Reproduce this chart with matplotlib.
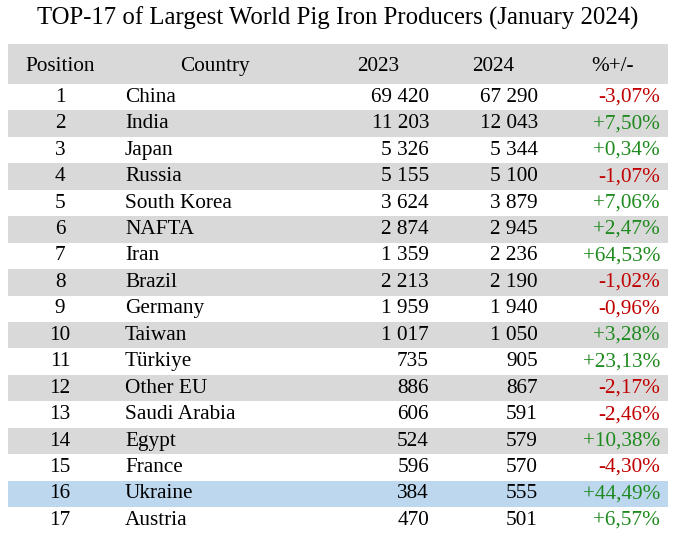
import matplotlib.pyplot as plt
from matplotlib.patches import Rectangle

countries = ["China", "India", "Japan", "Russia", "South Korea", "NAFTA", "Iran", "Brazil",
             "Germany", "Taiwan", "Türkiye", "Other EU", "Saudi Arabia", "Egypt", "France",
             "Ukraine", "Austria"]
v2023 = ["69 420", "11 203", "5 326", "5 155", "3 624", "2 874", "1 359", "2 213",
         "1 959", "1 017", "735", "886", "606", "524", "596", "384", "470"]
v2024 = ["67 290", "12 043", "5 344", "5 100", "3 879", "2 945", "2 236", "2 190",
         "1 940", "1 050", "905", "867", "591", "579", "570", "555", "501"]
change = ["-3,07%", "+7,50%", "+0,34%", "-1,07%", "+7,06%", "+2,47%", "+64,53%", "-1,02%",
          "-0,96%", "+3,28%", "+23,13%", "-2,17%", "-2,46%", "+10,38%", "-4,30%", "+44,49%",
          "+6,57%"]
highlight = "Ukraine"

plt.rcParams["font.family"] = ["Liberation Serif", "DejaVu Serif"]
fig = plt.figure(figsize=(6.76, 5.36), dpi=100)
ax = fig.add_axes([0, 0, 1, 1])
ax.set_xlim(0, 676)
ax.set_ylim(536, 0)
ax.axis("off")

fs = 15.3
gray = "#d9d9d9"
ax.text(338, 18, "TOP-17 of Largest World Pig Iron Producers (January 2024)",
        ha="center", va="center", fontsize=17.8)

top, hh, rh = 44, 40, 26.45
left, right = 8, 668
ax.add_patch(Rectangle((left, top), right - left, hh, color=gray, lw=0))
hy = top + hh / 2 + 2.5
for x, s in [(60, "Position"), (215, "Country"), (378, "2023"), (493, "2024"), (612, "%+/-")]:
    ax.text(x, hy, s, ha="center", va="center", fontsize=fs)

for i, c in enumerate(countries):
    y0 = top + hh + i * rh
    if c == highlight:
        ax.add_patch(Rectangle((left, y0), right - left, rh, color="#bdd7ee", lw=0))
    elif i % 2 == 1:
        ax.add_patch(Rectangle((left, y0), right - left, rh, color=gray, lw=0))
    yc = y0 + rh / 2
    ax.text(60, yc, str(i + 1), ha="center", va="center", fontsize=fs)
    ax.text(125, yc, c, ha="left", va="center", fontsize=fs)
    ax.text(429, yc, v2023[i], ha="right", va="center", fontsize=fs)
    ax.text(538, yc, v2024[i], ha="right", va="center", fontsize=fs)
    col = "#c00000" if change[i].startswith("-") else "#1e8a1e"
    ax.text(660, yc, change[i], ha="right", va="center", fontsize=fs, color=col)

fig.savefig("out.png", dpi=100)
